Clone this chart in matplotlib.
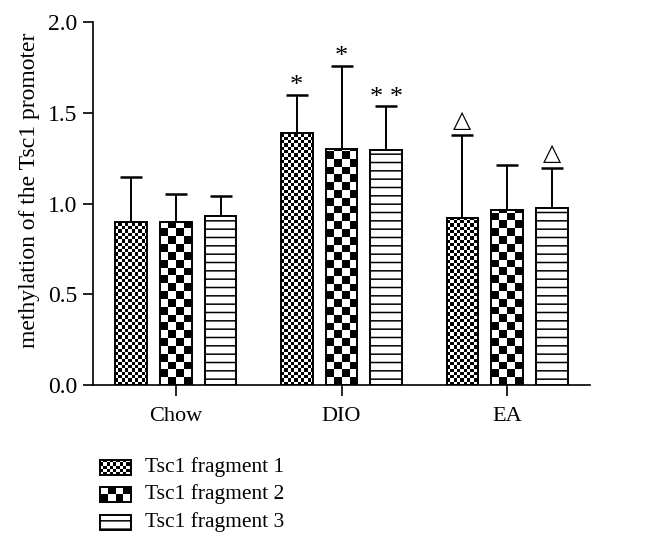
import numpy as np
import matplotlib
matplotlib.use('Agg')
from matplotlib import pyplot as plt
from matplotlib.patches import Rectangle

groups = ['Chow', 'DIO', 'EA']
series = ['Tsc1 fragment 1', 'Tsc1 fragment 2', 'Tsc1 fragment 3']
frag1 = [0.90, 1.39, 0.92]
frag2 = [0.90, 1.30, 0.965]
frag3 = [0.93, 1.295, 0.975]
frag1_err = [0.245, 0.21, 0.46]
frag2_err = [0.15, 0.46, 0.245]
frag3_err = [0.11, 0.24, 0.22]
# significance marks, (group, series) -> text
marks = {(1, 0): '*', (1, 1): '*', (1, 2): '* *', (2, 0): '\u25b3', (2, 2): '\u25b3'}

plt.rcParams['font.family'] = ['Liberation Serif', 'DejaVu Serif']
plt.rcParams['hatch.linewidth'] = 1.1

DPI = 100
fig = plt.figure(figsize=(6.55, 5.51), dpi=DPI)
ax = fig.add_axes([93 / 655, 166 / 551, 497 / 655, 363 / 551])
ax.set_xlim(-0.5, 2.5)
ax.set_ylim(0, 2.0)


def checker(axis, rect, sq):
    # fill a rectangle with a checkerboard of sq-pixel squares
    x0, y0 = rect.get_x(), rect.get_y()
    w, h = rect.get_width(), rect.get_height()
    (px0, py0), (px1, py1) = axis.transData.transform([(x0, y0), (x0 + w, y0 + h)])
    nx = int(np.ceil(abs(px1 - px0) / sq))
    ny = int(np.ceil(abs(py1 - py0) / sq))
    grid = np.add.outer(np.arange(ny), np.arange(nx)) % 2
    ex = axis.transData.inverted().transform((px0 + nx * sq, py0 + np.sign(py1 - py0) * ny * sq))
    im = axis.imshow(grid, cmap='gray_r', origin='lower', vmin=0, vmax=1,
                     extent=(x0, ex[0], y0, ex[1]), interpolation='nearest',
                     aspect='auto', zorder=rect.get_zorder() - 0.5)
    im.set_clip_path(rect)


x = np.arange(len(groups))
off = 0.27
width = 0.19
vals = [frag1, frag2, frag3]
errs = [frag1_err, frag2_err, frag3_err]
squares = [3.3, 7.8, None]
for i in range(3):
    xi = x + (i - 1) * off
    bars = ax.bar(xi, vals[i], width, facecolor='none' if squares[i] else 'white',
                  edgecolor='black', linewidth=1.4, zorder=3,
                  hatch=None if squares[i] else '--')
    ax.errorbar(xi, vals[i], yerr=[np.zeros(3), errs[i]], fmt='none',
                ecolor='black', elinewidth=1.4, capsize=8, capthick=1.8, zorder=2)
    if squares[i]:
        for b in bars:
            checker(ax, b, squares[i])
    for g in range(3):
        if (g, i) in marks:
            txt = marks[(g, i)]
            if txt == '\u25b3':
                ax.annotate(txt, (xi[g], vals[i][g] + errs[i][g]), xytext=(0, 2),
                            textcoords='offset points', ha='center', va='bottom',
                            fontsize=17, family=['DejaVu Sans'])
            else:
                ax.annotate(txt, (xi[g], vals[i][g] + errs[i][g]), xytext=(0, -2),
                            textcoords='offset points', ha='center', va='bottom',
                            fontsize=19)

ax.set_xlim(-0.5, 2.5)
ax.set_ylim(0, 2.0)
ax.spines['top'].set_visible(False)
ax.spines['right'].set_visible(False)
ax.spines['left'].set_linewidth(1.2)
ax.spines['bottom'].set_linewidth(1.2)
ax.set_xticks(x)
ax.set_xticklabels(groups, fontsize=16)
ax.set_yticks([0, 0.5, 1.0, 1.5, 2.0])
ax.set_yticklabels(['0.0', '0.5', '1.0', '1.5', '2.0'], fontsize=17)
ax.tick_params(axis='y', length=7, width=1.2, pad=4)
ax.tick_params(axis='x', length=8, width=1.2, pad=8)
ax.set_ylabel('methylation of the Tsc1 promoter', fontsize=17)
ax.yaxis.set_label_coords(-0.107, 0.535)

# legend drawn in pixel coordinates below the plot
lax = fig.add_axes([0, 0, 1, 1])
lax.set_xlim(0, 655)
lax.set_ylim(551, 0)
lax.axis('off')
rows = [467, 494, 522]
for i, name in enumerate(series):
    r = Rectangle((100, rows[i] - 7.5), 31, 15, facecolor='none' if squares[i] else 'white',
                  edgecolor='black', linewidth=1.4, zorder=3,
                  hatch=None if squares[i] else '--')
    lax.add_patch(r)
    if squares[i]:
        checker(lax, r, squares[i])
    lax.text(145, rows[i], name, fontsize=15.5, va='center', ha='left')
lax.set_xlim(0, 655)
lax.set_ylim(551, 0)

plt.savefig('out.png', dpi=DPI)
